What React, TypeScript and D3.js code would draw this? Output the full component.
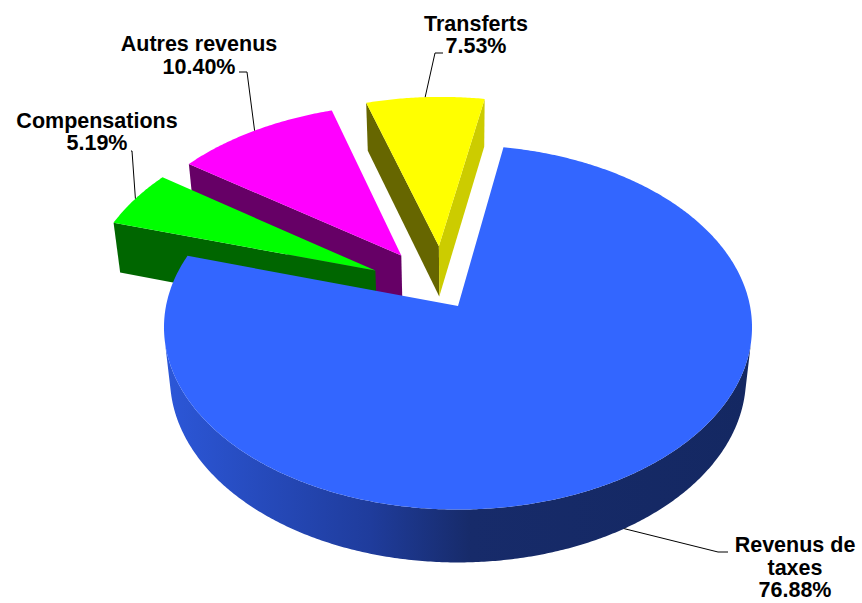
import React from 'react';
import * as d3 from 'd3';

// slice data (clockwise from the first slice)
const categories = ['Revenus de taxes', 'Compensations', 'Autres revenus', 'Transferts'];
const shares = [76.88, 5.19, 10.40, 7.53];
const topColors = ['#3366FF', '#00FF00', '#FF00FF', '#FFFF00'];
const exploded = [0, 1, 1, 1];

// label boxes: centre x, first baseline, leader elbow + end, max chars per line
const labelLayout = [
    { x: 795, y: 552, elbow: [718, 552], end: [728, 552], wrap: 10 },
    { x: 97, y: 127.5, elbow: [132, 151], end: [131, 151], wrap: 20 },
    { x: 199, y: 51, elbow: [247, 72], end: [239, 72], wrap: 20 },
    { x: 476, y: 30.5, elbow: [435, 53], end: [443, 53], wrap: 20 },
];

const W = 862, H = 603;
const cx = 458, cy = 306, R = 292, depth = 66;
const tilt = 38 * Math.PI / 180, camDist = 1970, explodeDist = 103;
const explodeSpread = 0.73; // exploded slices fan out a bit less than their mid angles
const startDeg = 10;
const lineHeight = 22.5;

const sinT = Math.sin(tilt), cosT = Math.cos(tilt);
const cam = [0, camDist * sinT, camDist * cosT];

function project(p: number[]): [number, number] {
    const [X, Y, Z] = p;
    const ys = Z * sinT - Y * cosT;
    const d = Z * cosT + Y * sinT;
    const s = camDist / (camDist - d);
    return [cx + X * s, cy + ys * s];
}

function facing(p: number[], n: number[]) {
    return (cam[0] - p[0]) * n[0] + (cam[1] - p[1]) * n[1] + (cam[2] - p[2]) * n[2] > 0;
}

function shade(c: string, k: number) {
    const r = d3.rgb(c);
    return d3.rgb(r.r * k, r.g * k, r.b * k).formatHex();
}

function wrapText(s: string, max: number) {
    const out: string[] = [];
    s.split(' ').forEach(w => {
        const last = out.length ? out[out.length - 1] : null;
        if (last != null && (last + ' ' + w).length <= max) out[out.length - 1] = last + ' ' + w;
        else out.push(w);
    });
    return out;
}

const line = d3.line();
const closed = (pts: number[][]) => line(pts.map(project)) + 'Z';

export default function App() {
    const start = startDeg * Math.PI / 180;
    const arcs = d3.pie<number>().sort(null).startAngle(start).endAngle(start + 2 * Math.PI)(shares);

    const expArcs = arcs.filter((a, i) => exploded[i]);
    const groupMid = (d3.min(expArcs, a => a.startAngle)! + d3.max(expArcs, a => a.endAngle)!) / 2;

    const slices = arcs.map((a, i) => {
        const a0 = a.startAngle, a1 = a.endAngle, mid = (a0 + a1) / 2;
        const e = exploded[i] * explodeDist;
        const dir = groupMid + (mid - groupMid) * explodeSpread;
        const ox = e * Math.sin(dir), oz = -e * Math.cos(dir);
        const rim = (t: number, Y: number) => [ox + R * Math.sin(t), Y, oz - R * Math.cos(t)];
        const apexTop = [ox, 0, oz], apexBot = [ox, -depth, oz];
        const n = Math.max(2, Math.ceil((a1 - a0) / (Math.PI / 360)));
        const angles = d3.range(n + 1).map(k => a0 + (a1 - a0) * k / n);
        const base = topColors[i];
        const faces: { d: string, fill: string }[] = [];

        // radial faces
        const nStart = [Math.sin(a0 - Math.PI / 2), 0, -Math.cos(a0 - Math.PI / 2)];
        if (facing(apexTop, nStart)) {
            faces.push({ d: closed([apexTop, rim(a0, 0), rim(a0, -depth), apexBot]), fill: shade(base, 0.4) });
        }
        const nEnd = [Math.sin(a1 + Math.PI / 2), 0, -Math.cos(a1 + Math.PI / 2)];
        if (facing(apexTop, nEnd)) {
            faces.push({ d: closed([apexTop, rim(a1, 0), rim(a1, -depth), apexBot]), fill: shade(base, 0.8) });
        }

        // outer curved side, only the parts turned to the camera
        const runs: number[][] = [];
        let cur: number[] = [];
        angles.forEach(t => {
            const vis = facing(rim(t, 0), [Math.sin(t), 0, -Math.cos(t)]);
            if (vis) cur.push(t);
            else if (cur.length) { runs.push(cur); cur = []; }
        });
        if (cur.length) runs.push(cur);
        runs.filter(r => r.length > 1).forEach(r => {
            const pts = r.map(t => rim(t, 0)).concat(r.slice().reverse().map(t => rim(t, -depth)));
            faces.push({ d: closed(pts), fill: i === 0 ? 'url(#blueSide)' : shade(base, 0.5) });
        });

        // top face
        faces.push({ d: closed([apexTop, ...angles.map(t => rim(t, 0))]), fill: base });

        const midVisible = facing(rim(mid, 0), [Math.sin(mid), 0, -Math.cos(mid)]);
        const anchor = project(rim(mid, midVisible ? -depth : 0));
        const order = (oz - 0.5 * R * Math.cos(mid)) * cosT;
        return { i, faces, anchor, order };
    });

    const drawOrder = slices.slice().sort((a, b) => a.order - b.order);

    return (
        <svg width={W} height={H} style={{ position: 'absolute', left: 0, top: 0, background: '#fff' }}
             fontFamily="'Liberation Sans', Arial, sans-serif">
            <defs>
                <linearGradient id="blueSide" gradientUnits="userSpaceOnUse" x1={cx - R} y1={0} x2={cx + R} y2={0}>
                    <stop offset="0" stopColor="#2c57d8" />
                    <stop offset="0.35" stopColor="#1f3c9c" />
                    <stop offset="0.52" stopColor="#172b6a" />
                    <stop offset="1" stopColor="#142862" />
                </linearGradient>
            </defs>
            {drawOrder.map(s => (
                <g key={s.i}>
                    {s.faces.map((f, k) => <path key={k} d={f.d} fill={f.fill} />)}
                </g>
            ))}
            {slices.map(s => {
                const lay = labelLayout[s.i];
                const lines = wrapText(categories[s.i], lay.wrap).concat([shares[s.i].toFixed(2) + '%']);
                return (
                    <g key={'l' + s.i}>
                        <polyline points={[s.anchor, lay.elbow, lay.end].map(p => p.join(',')).join(' ')}
                                  fill="none" stroke="#000" strokeWidth={1} />
                        <text x={lay.x} y={lay.y} textAnchor="middle" fontSize={21.5} fontWeight="bold" fill="#000">
                            {lines.map((t, k) => (
                                <tspan key={k} x={lay.x} y={lay.y + k * lineHeight}>{t}</tspan>
                            ))}
                        </text>
                    </g>
                );
            })}
        </svg>
    );
}
